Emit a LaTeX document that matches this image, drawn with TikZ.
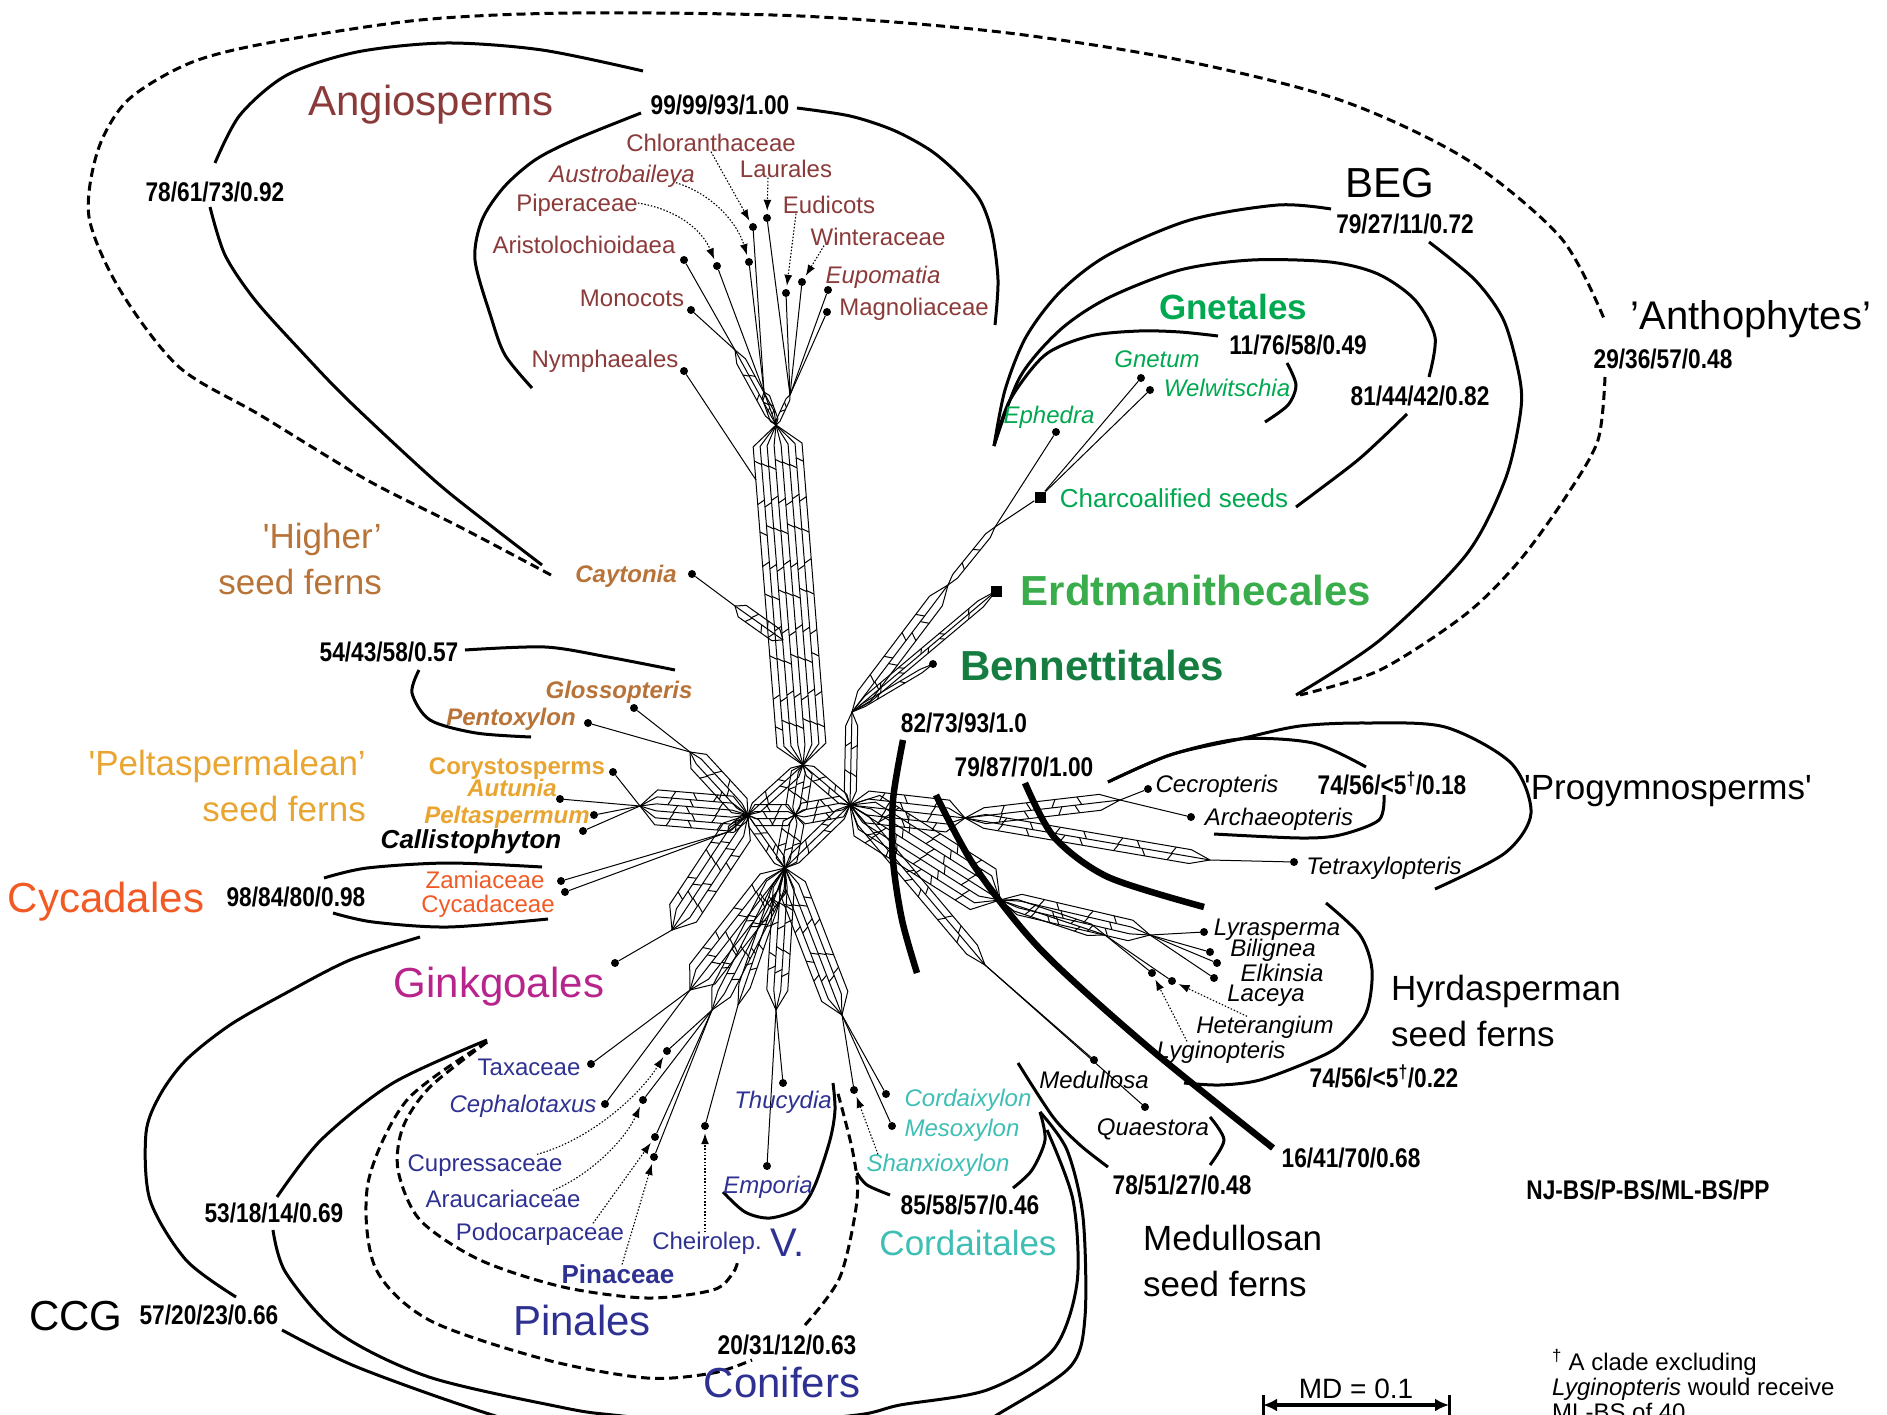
\documentclass[tikz,border=0pt]{standalone}
\usepackage{fontspec}
\setmainfont{Liberation Sans}
\newfontfamily\condfont{Liberation Sans}[FakeStretch=0.84]
\usetikzlibrary{arrows.meta}

\definecolor{angio}{RGB}{139,58,58}
\definecolor{highsf}{RGB}{184,116,56}
\definecolor{peltsf}{RGB}{232,165,50}
\definecolor{cycad}{RGB}{241,90,36}
\definecolor{ginkgo}{RGB}{183,36,140}
\definecolor{conif}{RGB}{46,49,146}
\definecolor{cordait}{RGB}{62,190,180}
\definecolor{gnet}{RGB}{0,168,80}
\definecolor{erdt}{RGB}{57,172,75}
\definecolor{benn}{RGB}{22,125,65}

% a bundle of parallel splits between two named points
\newcommand\web[4]{%
  \pgfmathanglebetweenpoints{\pgfpointanchor{#1}{center}}{\pgfpointanchor{#2}{center}}%
  \let\webang\pgfmathresult
  \pgfpointdiff{\pgfpointanchor{#1}{center}}{\pgfpointanchor{#2}{center}}%
  \pgfgetlastxy{\webdx}{\webdy}%
  \pgfmathsetmacro\weblen{veclen(\webdx,\webdy)}%
  \pgfmathsetmacro\webtip{min(0.15*\weblen,20)}%
  \pgfmathsetmacro\webhalf{(#3-1)*#4/2}%
  \pgfmathtruncatemacro\webn{max(2,round(\weblen/38))}%
  \begin{scope}[shift={(#1)}, rotate=\webang]
    \foreach \k in {1,...,#3}{%
      \pgfmathsetmacro\weboff{(\k-1)*#4-\webhalf}%
      \draw[net] (0pt,0pt) -- ({\webtip*1pt},{\weboff*1pt}) -- ({(\weblen-\webtip)*1pt},{\weboff*1pt}) -- ({\weblen*1pt},0pt);
    }%
    \ifnum#3>1
      \foreach \i in {1,...,\webn}{%
        \foreach \j in {2,...,#3}{%
          \pgfmathsetmacro\webx{\webtip+(\weblen-2*\webtip-8)*(\i-0.5)/\webn+mod(\i+\j,3)*3}%
          \pgfmathsetmacro\weby{(\j-2)*#4-\webhalf}%
          \pgfmathsetmacro\webs{(2*mod(\i,2)-1)*4}%
          \draw[net] ({\webx*1pt},{\weby*1pt}) -- ++({\webs*1pt},{#4*1pt});
        }%
      }%
    \fi
  \end{scope}%
}

\begin{document}
\begin{tikzpicture}[x=1pt, y=-1pt,
    net/.style={line width=1pt, line join=round},
    clade/.style={line width=3pt},
    dclade/.style={line width=3pt, dash pattern=on 9pt off 5pt},
    split/.style={line width=6.5pt},
    dot/.style={circle, fill, inner sep=0pt, minimum size=8pt},
    sq/.style={rectangle, fill, inner sep=0pt, minimum size=11pt},
    lead/.style={line width=1.1pt, dash pattern=on 1.5pt off 1.8pt,
      -{Latex[length=11pt,width=8pt]}, shorten >=3pt},
    tx/.style={inner sep=0pt, text height=17pt, text depth=0pt, font=\fontsize{24}{28}\selectfont},
    txi/.style={tx, font=\fontsize{24}{28}\selectfont\itshape},
    txb/.style={tx, font=\fontsize{24}{28}\selectfont\bfseries},
    txbi/.style={tx, font=\fontsize{24}{28}\selectfont\bfseries\itshape},
    grp/.style={inner sep=0pt, text height=30pt, text depth=0pt, font=\fontsize{42}{50}\selectfont},
    grpb/.style={grp, font=\fontsize{42}{50}\selectfont\bfseries},
    mid/.style={inner sep=0pt, text height=25pt, text depth=0pt, font=\fontsize{35}{46}\selectfont},
    twoline/.style={inner sep=0pt, font=\fontsize{35}{46}\selectfont},
    supp/.style={inner sep=0pt, text height=19pt, text depth=0pt, font=\fontsize{27}{32}\condfont\bfseries}
  ]
  \useasboundingbox (0,0) rectangle (1887,1415);
  \clip (0,0) rectangle (1887,1415);

  % taxa (leaves)
  \node[dot] (dNymph) at (684,371) {};
  \node[dot] (dMono) at (691,310) {};
  \node[dot] (dAristo) at (684,260) {};
  \node[dot] (dPiper) at (717,266) {};
  \node[dot] (dAustro) at (749,262) {};
  \node[dot] (dChlor) at (753,227) {};
  \node[dot] (dLaur) at (767,218) {};
  \node[dot] (dEudic) at (786,293) {};
  \node[dot] (dWint) at (802,282) {};
  \node[dot] (dEupom) at (828,290) {};
  \node[dot] (dMagno) at (827,312) {};
  \node[dot] (dCayt) at (692,574) {};
  \node[dot] (dGloss) at (634,708) {};
  \node[dot] (dPentox) at (588,723) {};
  \node[dot] (dCory) at (613,772) {};
  \node[dot] (dAutun) at (560,799) {};
  \node[dot] (dPelta) at (594,815) {};
  \node[dot] (dCalli) at (583,831) {};
  \node[dot] (dZamia) at (561,881) {};
  \node[dot] (dCycad) at (565,892) {};
  \node[dot] (dGinkgo) at (615,963) {};
  \node[dot] (dTaxa) at (591,1064) {};
  \node[dot] (dCepha) at (605,1104) {};
  \node[dot] (dCupr) at (667,1051) {};
  \node[dot] (dArau) at (643,1100) {};
  \node[dot] (dPodo) at (655,1137) {};
  \node[dot] (dPina) at (654,1157) {};
  \node[dot] (dCheir) at (705,1126) {};
  \node[dot] (dThuc) at (783,1083) {};
  \node[dot] (dEmpor) at (767,1166) {};
  \node[dot] (dShanx) at (854,1090) {};
  \node[dot] (dCordx) at (886,1094) {};
  \node[dot] (dMesox) at (892,1126) {};
  \node[dot] (dMedul) at (1094,1060) {};
  \node[dot] (dQuaes) at (1145,1107) {};
  \node[dot] (dLyra) at (1204,932) {};
  \node[dot] (dBilig) at (1210,952) {};
  \node[dot] (dElkin) at (1217,963) {};
  \node[dot] (dLacey) at (1214,978) {};
  \node[dot] (dHeter) at (1172,981) {};
  \node[dot] (dLygin) at (1152,973) {};
  \node[dot] (dCecro) at (1148,789) {};
  \node[dot] (dArchae) at (1191,817) {};
  \node[dot] (dTetra) at (1294,862) {};
  \node[dot] (dBenn) at (933,664) {};
  \node[sq] (sqErdt) at (996,591) {};
  \node[sq] (sqChar) at (1040,497) {};
  \node[dot] (dEph) at (1056,432) {};
  \node[dot] (dGnetum) at (1141,378) {};
  \node[dot] (dWelw) at (1150,390) {};

  % junctions of the network
  \coordinate (hubC) at (795,815);
  \coordinate (hubN) at (803,765);
  \coordinate (hubW) at (748,815);
  \coordinate (hubS) at (785,868);
  \coordinate (hubE) at (850,805);
  \coordinate (trB) at (776,425);
  \coordinate (anL) at (764,392);
  \coordinate (anR) at (790,395);
  \coordinate (anM) at (735,350);
  \coordinate (nyA) at (756,480);
  \coordinate (cayA) at (735,606);
  \coordinate (cayB) at (783,640);
  \coordinate (begA) at (852,712);
  \coordinate (begB) at (948,585);
  \coordinate (begC) at (995,527);
  \coordinate (glA) at (690,752);
  \coordinate (peA) at (640,806);
  \coordinate (cyA) at (728,832);
  \coordinate (giA) at (672,930);
  \coordinate (coA) at (690,990);
  \coordinate (coB) at (712,1010);
  \coordinate (coC) at (738,1005);
  \coordinate (thA) at (776,1010);
  \coordinate (cdA) at (842,1015);
  \coordinate (prA) at (965,818);
  \coordinate (prB) at (1120,800);
  \coordinate (prC) at (1210,860);
  \coordinate (hyA) at (1000,900);
  \coordinate (hyB) at (1150,935);
  \coordinate (hyC) at (1105,935);
  \coordinate (meA) at (985,965);

  % centre of the network
  \web{hubC}{hubN}{4}{7}
  \web{hubC}{hubW}{4}{7}
  \web{hubC}{hubS}{4}{7}
  \web{hubC}{hubE}{4}{7}
  \web{hubN}{hubE}{3}{6}
  \web{hubS}{hubE}{3}{6}
  \web{hubW}{hubS}{3}{6}
  \web{hubW}{hubN}{3}{6}

  % angiosperm trunk
  \web{hubN}{trB}{8}{7}
  \web{anM}{trB}{3}{5}
  \web{anL}{trB}{3}{4}
  \web{anR}{trB}{2}{4}
  \draw[net] (dAristo) -- (anM);
  \draw[net] (dMono) -- (anM);
  \draw[net] (dPiper) -- (anL);
  \draw[net] (dAustro) -- (anL);
  \draw[net] (dChlor) -- (anL);
  \draw[net] (dLaur) -- (anR);
  \draw[net] (dEudic) -- (anR);
  \draw[net] (dWint) -- (anR);
  \draw[net] (dEupom) -- (anR);
  \draw[net] (dMagno) -- (anR);
  \draw[net] (dNymph) -- (nyA);
  \draw[net] (dCayt) -- (cayA);
  \web{cayA}{cayB}{3}{7}

  % BEG
  \web{hubE}{begA}{3}{6}
  \web{begA}{begB}{3}{8}
  \web{begB}{begC}{2}{6}
  \web{begA}{sqErdt}{3}{4}
  \web{begA}{dBenn}{2}{4}
  \draw[net] (begC) -- (dEph);
  \draw[net] (begC) -- (sqChar);
  \draw[net] (sqChar) -- (dGnetum);
  \draw[net] (sqChar) -- (dWelw);

  % seed ferns, cycads, Ginkgo
  \web{glA}{hubW}{4}{7}
  \draw[net] (dGloss) -- (glA);
  \draw[net] (dPentox) -- (glA);
  \web{peA}{hubW}{6}{7}
  \draw[net] (dCory) -- (peA);
  \draw[net] (dAutun) -- (peA);
  \draw[net] (dPelta) -- (peA);
  \draw[net] (dCalli) -- (peA);
  \web{cyA}{hubW}{3}{4}
  \draw[net] (dZamia) -- (cyA);
  \draw[net] (dCycad) -- (cyA);
  \web{giA}{hubW}{5}{8}
  \draw[net] (dGinkgo) -- (giA);

  % conifers and Cordaitales
  \web{hubS}{coA}{5}{8}
  \web{hubS}{coB}{4}{7}
  \web{hubS}{coC}{3}{6}
  \web{hubS}{thA}{4}{7}
  \web{hubS}{cdA}{5}{7}
  \draw[net] (dTaxa) -- (coA);
  \draw[net] (dCepha) -- (coA);
  \foreach \leaf in {dCupr,dArau,dPodo,dPina}
    \draw[net] (\leaf) -- (coB);
  \draw[net] (dCheir) -- (coC);
  \draw[net] (dThuc) -- (thA);
  \draw[net] (dEmpor) -- (thA);
  \foreach \leaf in {dShanx,dCordx,dMesox}
    \draw[net] (\leaf) -- (cdA);

  % progymnosperms, hydrasperms, medullosans
  \web{hubE}{prA}{5}{8}
  \web{prA}{prB}{3}{8}
  \web{prA}{prC}{3}{7}
  \draw[net] (dCecro) -- (prB);
  \draw[net] (dArchae) -- (prB);
  \draw[net] (dTetra) -- (prC);
  \web{hubE}{hyA}{7}{8}
  \web{hyA}{hyB}{4}{7}
  \web{hyA}{hyC}{3}{6}
  \foreach \leaf in {dLyra,dBilig,dElkin,dLacey}
    \draw[net] (\leaf) -- (hyB);
  \draw[net] (dHeter) -- (hyC);
  \draw[net] (dLygin) -- (hyC);
  \web{hubE}{meA}{3}{7}
  \draw[net] (dMedul) -- (meA);
  \draw[net] (dQuaes) -- (meA);

  % clade arcs
  \draw[dclade] plot[smooth] coordinates {(551,575) (460,527) (367,480) (260,415) (179,367) (120,290) (89,217) (98,150) (128,100) (190,63) (268,43) (420,20) (574,13) (800,16) (1000,32) (1180,60) (1340,100) (1466,159) (1561,238) (1605,321)};
  \draw[dclade] plot[smooth] coordinates {(1605,377) (1598,440) (1567,495) (1520,560) (1466,614) (1380,670) (1300,695)};
  \draw[clade] plot[smooth] coordinates {(643,71) (542,50) (446,43) (357,52) (287,75) (240,115) (215,163)};
  \draw[clade] plot[smooth] coordinates {(210,207) (225,255) (255,300) (300,350) (348,400) (434,480) (490,525) (542,565)};
  \draw[clade] plot[smooth] coordinates {(532,388) (505,355) (491,317) (475,260) (482,220) (504,187) (535,160) (574,140) (641,113)};
  \draw[clade] plot[smooth] coordinates {(797,108) (850,116) (893,130) (930,150) (957,173) (980,200) (992,233) (998,280) (995,325)};
  \draw[clade] plot[smooth] coordinates {(994,446) (1005,390) (1026,337) (1060,292) (1108,255) (1190,220) (1278,205) (1331,209)};
  \draw[clade] plot[smooth] coordinates {(1429,242) (1475,280) (1504,321) (1520,380) (1520,416) (1505,480) (1466,555) (1380,640) (1296,695)};
  \draw[clade] plot[smooth] coordinates {(994,446) (1020,377) (1060,330) (1108,298) (1180,270) (1252,260) (1330,262) (1378,274) (1415,300) (1435,337) (1429,377)};
  \draw[clade] plot[smooth] coordinates {(1407,414) (1380,440) (1353,464) (1296,507)};
  \draw[clade] plot[smooth] coordinates {(994,446) (1010,400) (1045,355) (1090,336) (1139,331) (1180,332) (1218,336)};
  \draw[clade] plot[smooth] coordinates {(1287,363) (1296,385) (1288,405) (1265,422)};
  \draw[clade] plot[smooth] coordinates {(1108,782) (1170,755) (1240,739) (1300,726) (1366,723) (1445,727) (1511,763) (1531,813) (1505,853) (1435,889)};
  \draw[clade] plot[smooth] coordinates {(1108,782) (1170,755) (1240,739) (1313,743) (1366,767)};
  \draw[clade] plot[smooth] coordinates {(1384,795) (1379,820) (1340,835) (1300,838) (1214,834)};
  \draw[clade] plot[smooth] coordinates {(1326,903) (1360,935) (1372,970) (1366,1013) (1340,1045) (1313,1060) (1260,1080) (1220,1085) (1184,1083)};
  \draw[clade] plot[smooth] coordinates {(1018,1063) (1053,1117) (1080,1145) (1108,1167)};
  \draw[clade] plot[smooth] coordinates {(1210,1117) (1224,1140) (1210,1165)};
  \draw[clade] plot[smooth] coordinates {(857,1173) (867,1185) (890,1195)};
  \draw[clade] plot[smooth] coordinates {(1013,1188) (1032,1170) (1045,1140) (1040,1112)};
  \draw[clade] plot[smooth] coordinates {(723,1192) (745,1212) (770,1218) (800,1208) (815,1185) (830,1140) (835,1110) (833,1083)};
  \draw[clade] plot[smooth] coordinates {(420,937) (350,960) (286,993) (230,1025) (186,1060) (160,1095) (146,1133) (150,1200) (186,1260) (236,1297)};
  \draw[clade] plot[smooth] coordinates {(282,1330) (357,1367) (486,1413) (620,1450) (800,1465) (950,1440) (1000,1413) (1070,1367) (1085,1317) (1083,1217) (1067,1150) (1040,1112)};
  \draw[clade] plot[smooth] coordinates {(487,1040) (393,1083) (321,1140) (277,1197)};
  \draw[clade] plot[smooth] coordinates {(273,1230) (286,1273) (339,1333) (429,1377) (560,1407) (613,1415) (735,1425) (857,1415) (900,1405) (987,1390) (1053,1350) (1077,1283) (1073,1200) (1047,1130)};
  \draw[dclade] plot[smooth] coordinates {(487,1042) (430,1087) (403,1127) (398,1170) (420,1220) (480,1260) (563,1287) (647,1298) (713,1290) (733,1273) (738,1260)};
  \draw[dclade] plot[smooth] coordinates {(487,1042) (407,1100) (368,1183) (375,1267) (429,1320) (547,1360) (647,1378) (713,1373) (752,1360)};
  \draw[dclade] plot[smooth] coordinates {(805,1325) (840,1277) (857,1200) (853,1153) (837,1090)};
  \draw[clade] plot[smooth] coordinates {(324,878) (367,868) (448,863) (542,867)};
  \draw[clade] plot[smooth] coordinates {(333,913) (373,922) (448,927) (548,919)};
  \draw[clade] plot[smooth] coordinates {(465,650) (545,647) (608,657) (675,670)};
  \draw[clade] plot[smooth] coordinates {(419,670) (412,693) (430,720) (476,733) (531,737)};

  % heavy splits
  \draw[split] plot[smooth] coordinates {(903,740) (893,800) (893,860) (902,920) (917,973)};
  \draw[split] plot[smooth] coordinates {(1025,783) (1054,837) (1108,877) (1204,907)};
  \draw[split] plot[smooth] coordinates {(936,795) (975,867) (1041,950) (1148,1047) (1273,1148)};

  % Angiosperms
  \node[grp, text=angio] (lAngio) at (431,101) {Angiosperms};
  \node[supp] (sAngio) at (720,105) {99/99/93/1.00};
  \node[supp] (sAngSf) at (215,192) {78/61/73/0.92};
  \node[tx, text=angio] (lChlor) at (711,143) {Chloranthaceae};
  \node[tx, text=angio] (lLaur) at (786,169) {Laurales};
  \node[txi, text=angio] (lAustro) at (622,174) {Austrobaileya};
  \node[tx, text=angio] (lEudic) at (829,205) {Eudicots};
  \node[tx, text=angio] (lPiper) at (577,203) {Piperaceae};
  \node[tx, text=angio] (lWint) at (878,237) {Winteraceae};
  \node[tx, text=angio] (lAristo) at (584,245) {Aristolochioidaea};
  \node[txi, text=angio] (lEupom) at (883,275) {Eupomatia};
  \node[tx, text=angio] (lMono) at (632,298) {Monocots};
  \node[tx, text=angio] (lMagno) at (914,307) {Magnoliaceae};
  \node[tx, text=angio] (lNymph) at (605,359) {Nymphaeales};

  % BEG
  \node[grp] (lBEG) at (1390,183) {BEG};
  \node[supp] (sBEG) at (1405,224) {79/27/11/0.72};
  \node[mid, font=\fontsize{35}{46}\selectfont\bfseries, text=gnet] (lGnet) at (1233,307) {Gnetales};
  \node[supp] (sGnet) at (1298,345) {11/76/58/0.49};
  \node[txi, text=gnet] (lGnetum) at (1157,359) {Gnetum};
  \node[txi, text=gnet] (lWelw) at (1227,388) {Welwitschia};
  \node[txi, text=gnet] (lEph) at (1049,415) {Ephedra};
  \node[supp] (sGnCh) at (1420,396) {81/44/42/0.82};
  \node[tx, font=\fontsize{26}{30}\selectfont, text height=18.5pt, text=gnet] (lChar) at (1174,498) {Charcoalified seeds};
  \node[grpb, text=erdt] (lErdt) at (1196,590) {Erdtmanithecales};
  \node[grpb, text=benn] (lBenn) at (1092,665) {Bennettitales};
  \node[grp, font=\fontsize{40}{48}\selectfont] (lAnth) at (1751,314) {’Anthophytes’};
  \node[supp] (sAnth) at (1663,359) {29/36/57/0.48};

  % seed ferns, cycads, Ginkgo
  \node[twoline, anchor=north east, align=right, text=highsf] (lHigher) at (382,523) {\textquotesingle Higher’\\seed ferns};
  \node[supp] (sGloss) at (389,652) {54/43/58/0.57};
  \node[txbi, text=highsf] (lCayt) at (626,574) {Caytonia};
  \node[txbi, text=highsf] (lGloss) at (619,690) {Glossopteris};
  \node[txbi, text=highsf] (lPentox) at (511,717) {Pentoxylon};
  \node[twoline, anchor=north east, align=right, text=peltsf] (lPelt) at (366,750) {\textquotesingle Peltaspermalean’\\seed ferns};
  \node[txb, text=peltsf] (lCory) at (517,766) {Corystosperms};
  \node[txbi, text=peltsf] (lAutun) at (512,788) {Autunia};
  \node[txbi, text=peltsf] (lPelta) at (507,815) {Peltaspermum};
  \node[txbi, font=\fontsize{26}{30}\selectfont\bfseries\itshape] (lCalli) at (471,840) {Callistophyton};
  \node[grp, text=cycad] (lCycs) at (106,897) {Cycadales};
  \node[supp] (sCycs) at (296,897) {98/84/80/0.98};
  \node[tx, text=cycad] (lZamia) at (485,880) {Zamiaceae};
  \node[tx, text=cycad] (lCycad) at (488,904) {Cycadaceae};
  \node[grp, text=ginkgo] (lGinkgo) at (499,982) {Ginkgoales};

  % conifers and Cordaitales
  \node[tx, text=conif] (lTaxa) at (529,1067) {Taxaceae};
  \node[txi, text=conif] (lCepha) at (523,1104) {Cephalotaxus};
  \node[tx, text=conif] (lCupr) at (485,1163) {Cupressaceae};
  \node[tx, text=conif] (lArau) at (503,1199) {Araucariaceae};
  \node[tx, text=conif] (lPodo) at (540,1232) {Podocarpaceae};
  \node[txb, font=\fontsize{26}{30}\selectfont\bfseries, text height=18.5pt, text=conif] (lPina) at (618,1274) {Pinaceae};
  \node[tx, text=conif] (lCheir) at (707,1241) {Cheirolep.};
  \node[grp, font=\fontsize{40}{48}\selectfont, text=conif] (lVolt) at (788,1241) {V.};
  \node[txi, text=conif] (lThuc) at (783,1100) {Thucydia};
  \node[txi, text=conif] (lEmpor) at (768,1185) {Emporia};
  \node[grp, text=conif] (lPinal) at (582,1320) {Pinales};
  \node[supp] (sConif) at (787,1345) {20/31/12/0.63};
  \node[grp, text=conif] (lConif) at (782,1382) {Conifers};
  \node[supp] (sCoGi) at (274,1213) {53/18/14/0.69};
  \node[grp] (lCCG) at (76,1315) {CCG};
  \node[supp] (sCCG) at (209,1315) {57/20/23/0.66};
  \node[txi, text=cordait] (lCordx) at (968,1098) {Cordaixylon};
  \node[txi, text=cordait] (lMesox) at (962,1128) {Mesoxylon};
  \node[txi, text=cordait] (lShanx) at (938,1163) {Shanxioxylon};
  \node[supp] (sCord) at (970,1205) {85/58/57/0.46};
  \node[mid, text=cordait] (lCord) at (968,1243) {Cordaitales};

  % progymnosperms, hydrasperms, medullosans
  \node[supp] (sSeed) at (964,723) {82/73/93/1.0};
  \node[supp] (sProg) at (1024,767) {79/87/70/1.00};
  \node[txi] (lCecro) at (1217,784) {Cecropteris};
  \node[supp] (sArch) at (1392,785) {74/56/<5\textsuperscript{\textdagger}/0.18};
  \node[txi] (lArchae) at (1279,817) {Archaeopteris};
  \node[txi] (lTetra) at (1384,866) {Tetraxylopteris};
  \node[mid] (lProg) at (1668,787) {\textquotesingle Progymnosperms\textquotesingle};
  \node[txi] (lLyra) at (1277,927) {Lyrasperma};
  \node[txi] (lBilig) at (1273,948) {Bilignea};
  \node[txi] (lElkin) at (1282,973) {Elkinsia};
  \node[txi] (lLacey) at (1266,993) {Laceya};
  \node[txi] (lHeter) at (1265,1025) {Heterangium};
  \node[txi] (lLygin) at (1221,1050) {Lyginopteris};
  \node[twoline, anchor=north west, align=left] (lHydra) at (1391,975) {Hyrdasperman\\seed ferns};
  \node[supp] (sHydra) at (1384,1078) {74/56/<5\textsuperscript{\textdagger}/0.22};
  \node[txi] (lMedul) at (1094,1080) {Medullosa};
  \node[txi] (lQuaes) at (1153,1127) {Quaestora};
  \node[supp] (sMedul) at (1182,1185) {78/51/27/0.48};
  \node[twoline, anchor=north west, align=left] (lMedSf) at (1143,1225) {Medullosan\\seed ferns};
  \node[supp] (sPlat) at (1351,1158) {16/41/70/0.68};
  \node[supp] (lKey) at (1648,1190) {NJ-BS/P-BS/ML-BS/PP};

  % scale bar and footnote
  \node[inner sep=0pt, text height=20pt, text depth=0pt, font=\fontsize{28}{32}\selectfont] (lMD) at (1356,1388) {MD = 0.1};
  \coordinate (mdL) at (1263,1405);
  \coordinate (mdR) at (1449,1405);
  \draw[line width=3.5pt, {Latex[length=14pt,width=13pt]}-{Latex[length=14pt,width=13pt]}] (mdL) -- (mdR);
  \draw[line width=3pt] ([yshift=-10pt]mdL) -- ([yshift=10pt]mdL);
  \draw[line width=3pt] ([yshift=-10pt]mdR) -- ([yshift=10pt]mdR);
  \node[anchor=north west, align=left, inner sep=0pt, font=\fontsize{24}{25}\selectfont] (lNote) at (1552,1349)
    {\textsuperscript{\textdagger} A clade excluding\\\textit{Lyginopteris} would receive\\ML-BS of 40};

  % dotted pointers
  \draw[lead] (lChlor.south) -- (dChlor);
  \draw[lead] ([xshift=-18pt]lLaur.south) -- (dLaur);
  \draw[lead] ([xshift=-33pt]lEudic.south) -- (dEudic);
  \draw[lead] ([xshift=-54pt]lWint.south) -- (dWint);
  \draw[lead] ([xshift=54pt]lAustro.south) .. controls (715,195) and (738,225) .. (dAustro);
  \draw[lead] (lPiper.east) .. controls (680,210) and (703,232) .. (dPiper);
  \draw[lead] ([xshift=52pt]lCupr.north) .. controls (590,1140) and (640,1095) .. (dCupr);
  \draw[lead] ([xshift=50pt]lArau.north) .. controls (590,1175) and (625,1140) .. (dArau);
  \draw[lead] ([xshift=53pt]lPodo.north) -- (dPodo);
  \draw[lead] ([xshift=4pt]lPina.north) -- (dPina);
  \draw[lead] ([xshift=-2pt]lCheir.north) -- (dCheir);
  \draw[lead] ([xshift=-60pt]lShanx.north) -- (dShanx);
  \draw[lead] ([xshift=-18pt]lHeter.north) -- (dHeter);
  \draw[lead] ([xshift=-34pt]lLygin.north) -- (dLygin);
\end{tikzpicture}
\end{document}
